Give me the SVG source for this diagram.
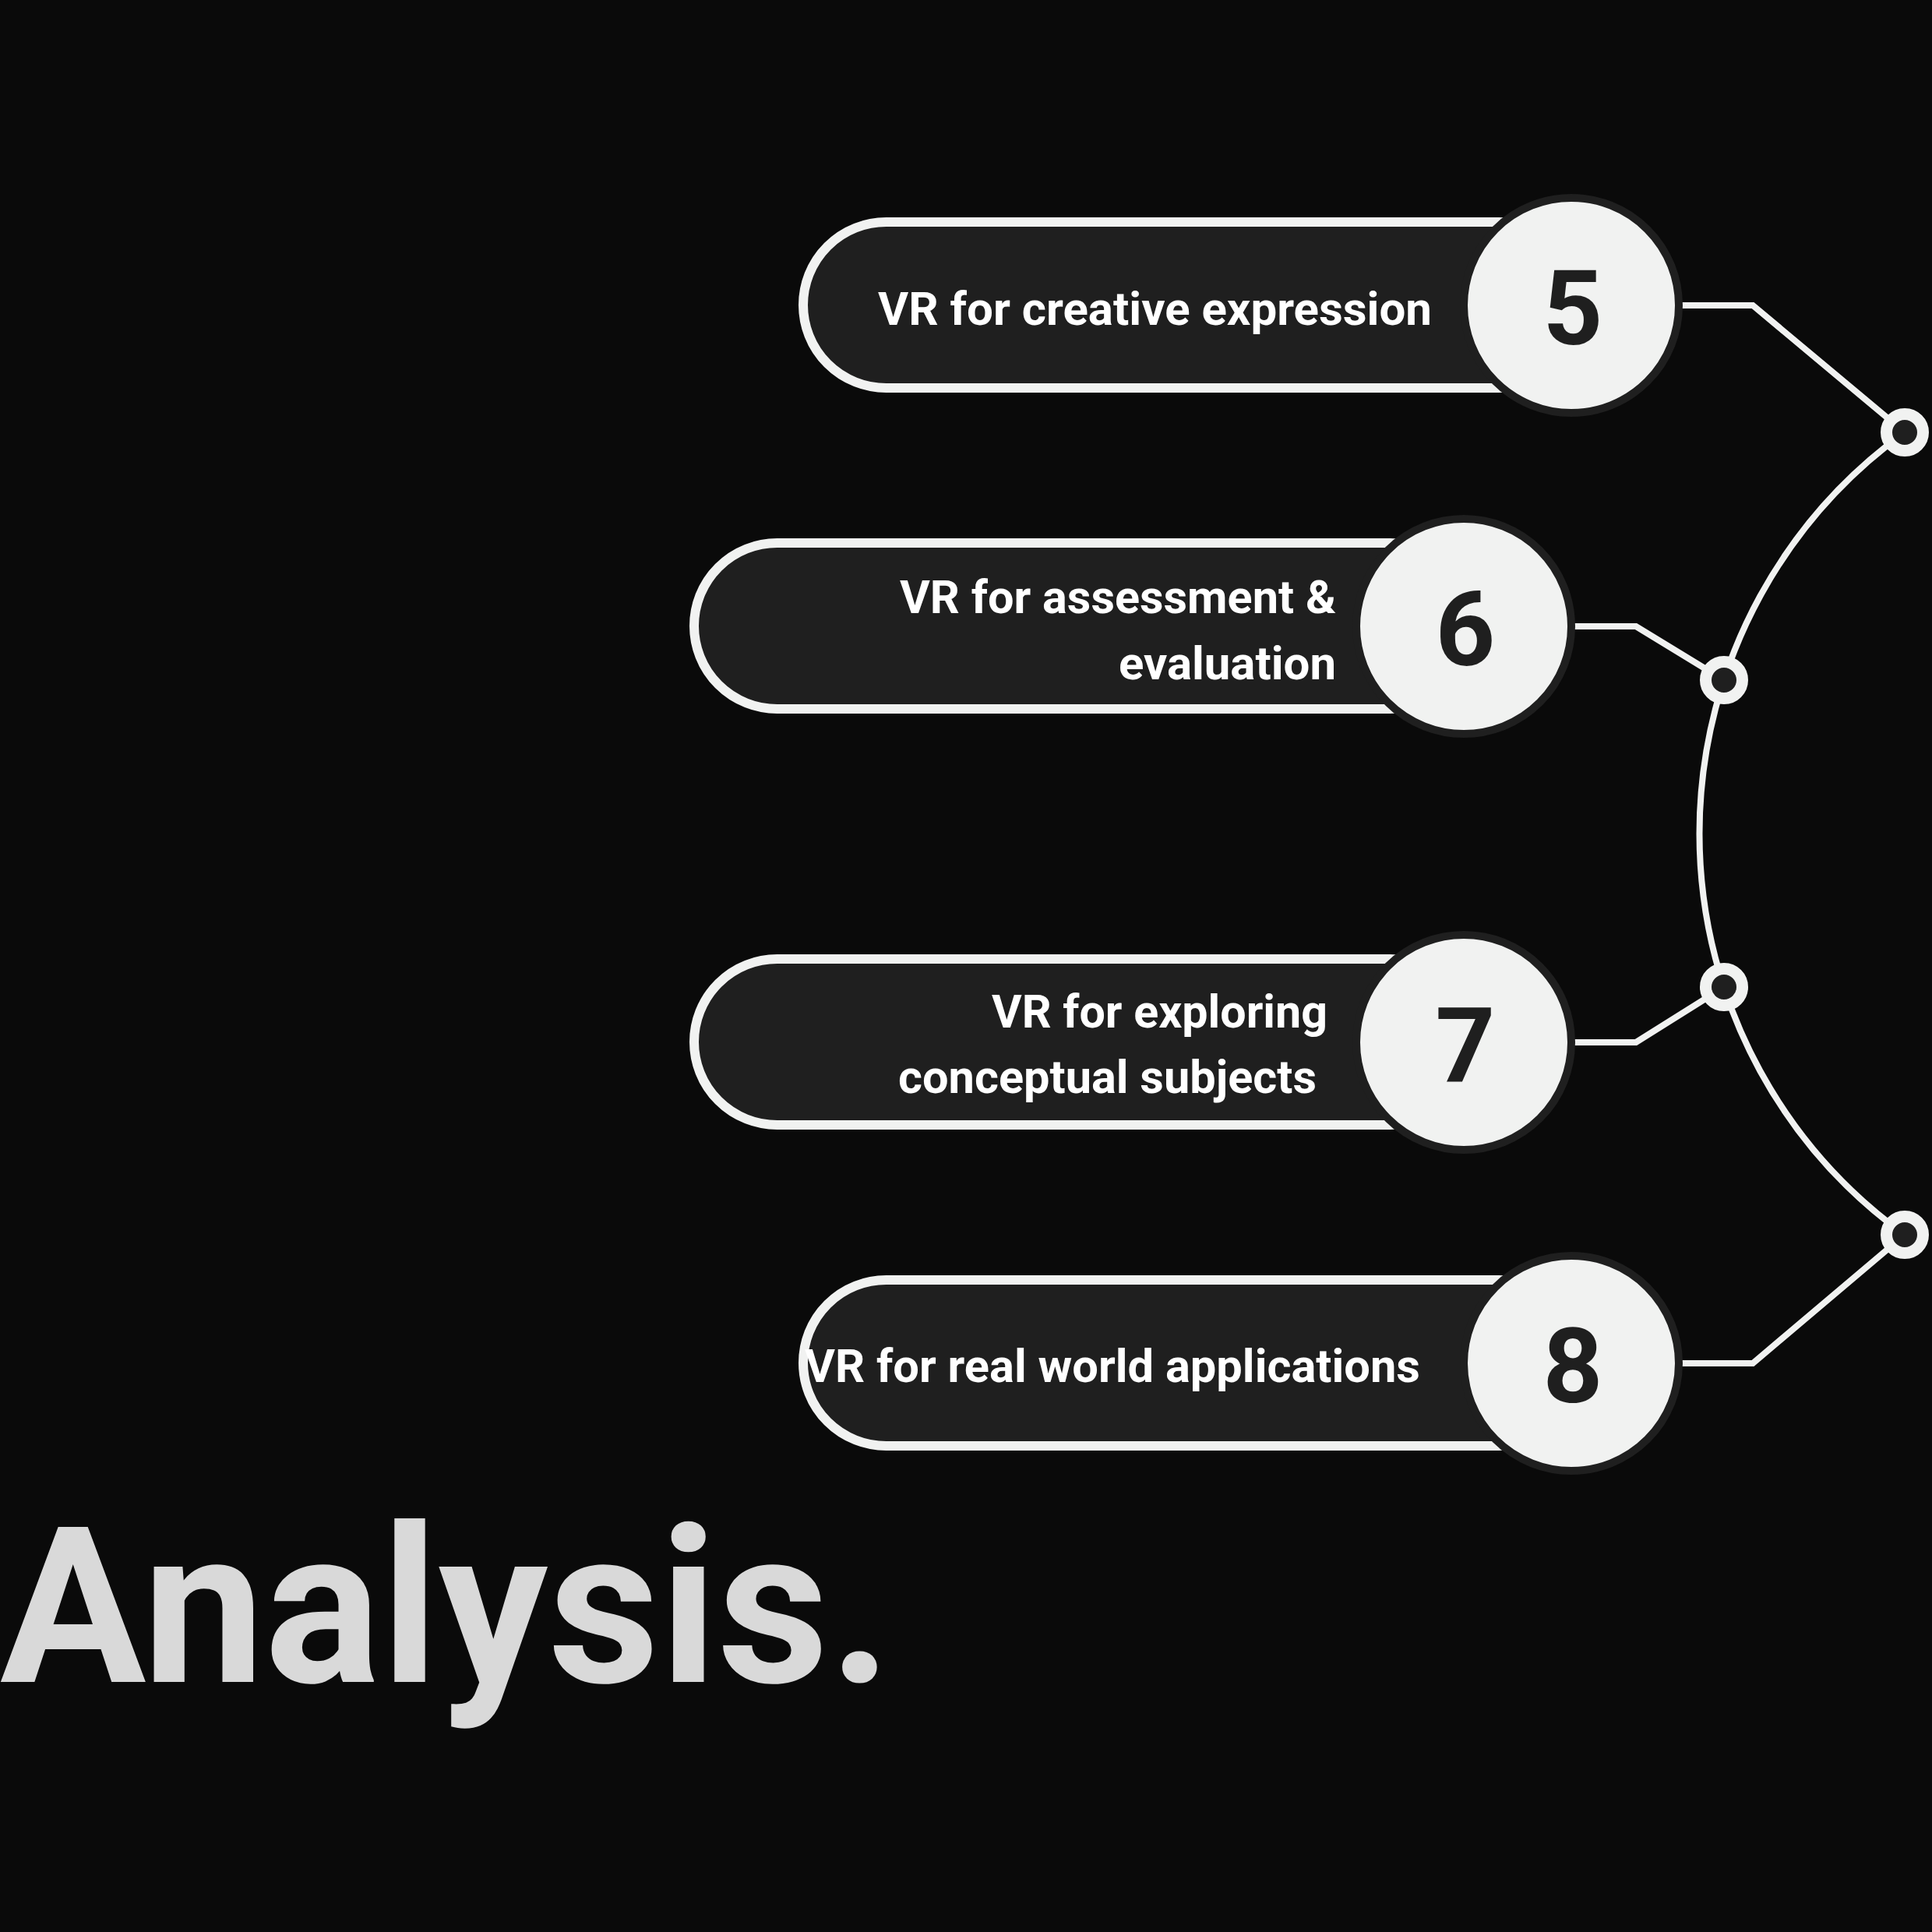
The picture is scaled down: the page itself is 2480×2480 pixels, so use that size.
<svg xmlns="http://www.w3.org/2000/svg" width="2480" height="2480" viewBox="0 0 2480 2480">
  <style>
    .pill { fill: #1f1f1f; stroke: #f1f2f1; stroke-width: 12; }
    .badge { fill: #f1f2f1; stroke: #1f1f1f; stroke-width: 10; }
    .num { font-family: Roboto, "Liberation Sans", sans-serif; font-weight: 700; font-size: 134px; fill: #1f1f1f; text-anchor: middle; }
    .label { font-family: Roboto, "Liberation Sans", sans-serif; font-weight: 700; font-size: 60px; fill: #ffffff; }
    .wire { fill: none; stroke: #f1f2f1; stroke-width: 8; stroke-linejoin: miter; }
    .dot { fill: #1f1f1f; stroke: #f1f2f1; stroke-width: 15; }
    .title { font-family: Roboto, "Liberation Sans", sans-serif; font-weight: 700; font-size: 280px; fill: #d9d9d9; }
  </style>
  <rect width="2480" height="2480" fill="#0a0a0a"/>

  <!-- connectors: spine arc and elbow links -->
  <g id="connectors">
    <path class="wire" d="M 2445 555 A 635 635 0 0 0 2445 1585"/>
    <path class="wire" d="M 2017 392 L 2250 392 L 2445 555"/>
    <path class="wire" d="M 1879 804 L 2100 804 L 2213 873"/>
    <path class="wire" d="M 1879 1338 L 2100 1338 L 2213 1267"/>
    <path class="wire" d="M 2017 1750 L 2250 1750 L 2445 1585"/>
    <circle class="dot" cx="2445" cy="555" r="23.5"/>
    <circle class="dot" cx="2213" cy="873" r="23.5"/>
    <circle class="dot" cx="2213" cy="1267" r="23.5"/>
    <circle class="dot" cx="2445" cy="1585" r="23.5"/>
  </g>

  <g id="item-5">
    <rect class="pill" x="1031" y="285" width="1000" height="213" rx="106.5"/>
    <text class="label" x="1127" y="417" textLength="711" lengthAdjust="spacingAndGlyphs">VR for creative expression</text>
    <circle class="badge" cx="2017" cy="392" r="138"/>
    <text class="num" x="2019" y="442">5</text>
  </g>

  <g id="item-6">
    <rect class="pill" x="891" y="697" width="1000" height="213" rx="106.5"/>
    <text class="label" x="1155" y="787" textLength="560" lengthAdjust="spacingAndGlyphs">VR for assessment &amp;</text>
    <text class="label" x="1436" y="872" textLength="279" lengthAdjust="spacingAndGlyphs">evaluation</text>
    <circle class="badge" cx="1879" cy="804" r="138"/>
    <text class="num" x="1881" y="854">6</text>
  </g>

  <g id="item-7">
    <rect class="pill" x="891" y="1231" width="1000" height="213" rx="106.5"/>
    <text class="label" x="1273" y="1319" textLength="431" lengthAdjust="spacingAndGlyphs">VR for exploring</text>
    <text class="label" x="1153" y="1403" textLength="537" lengthAdjust="spacingAndGlyphs">conceptual subjects</text>
    <circle class="badge" cx="1879" cy="1338" r="138"/>
    <text class="num" x="1881" y="1388">7</text>
  </g>

  <g id="item-8">
    <rect class="pill" x="1031" y="1643" width="1000" height="213" rx="106.5"/>
    <text class="label" x="1033" y="1774" textLength="790" lengthAdjust="spacingAndGlyphs">VR for real world applications</text>
    <circle class="badge" cx="2017" cy="1750" r="138"/>
    <text class="num" x="2019" y="1800">8</text>
  </g>

  <g id="heading">
    <text class="title" x="0" y="2159" textLength="1145" lengthAdjust="spacingAndGlyphs">Analysis.</text>
  </g>
</svg>
